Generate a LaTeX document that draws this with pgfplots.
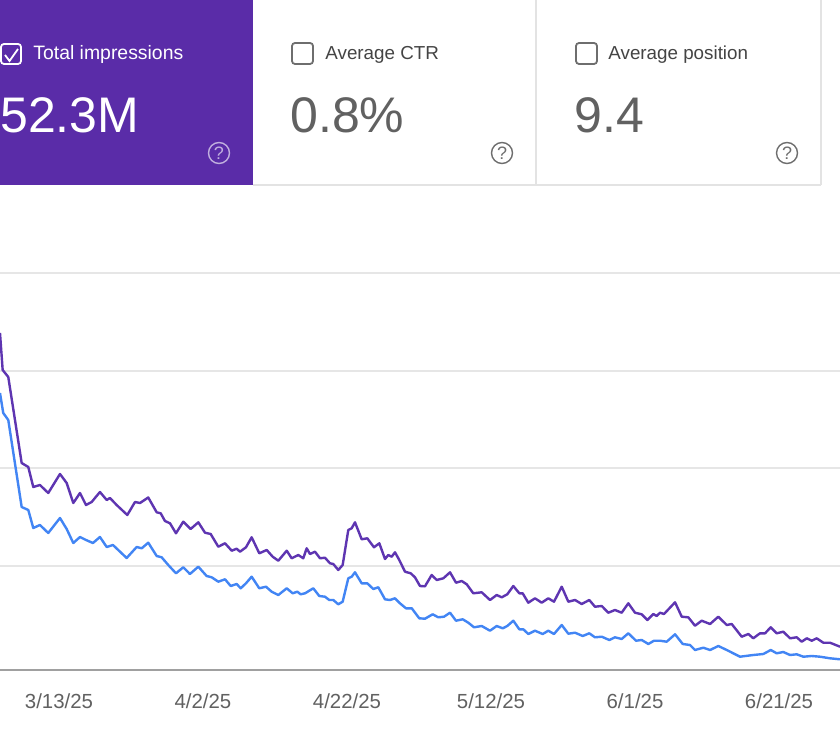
\documentclass[border=0pt]{standalone}
\usepackage{pgfplots}
\pgfplotsset{compat=1.18}
\usepackage{pgfplotstable}
\usepackage{fontspec}
\setmainfont{Liberation Sans}
\definecolor{gpurple}{HTML}{5E35B1}
\definecolor{gblue}{HTML}{4285F4}
\definecolor{cardpurple}{HTML}{5A2CA8}
\definecolor{gridc}{HTML}{E6E6E6}
\definecolor{cardline}{HTML}{E3E3E3}
\definecolor{axisc}{HTML}{A0A0A0}
\definecolor{txtgray}{HTML}{616161}
\definecolor{lblgray}{HTML}{444444}
\definecolor{iconc}{HTML}{6E6E6E}

% x = days after 3/13/25, y = impressions (chart units)
\pgfplotstableread{
d h
-8.19 337
-7.82 300
-7.04 293
-5.18 207
-4.26 203
-3.57 183
-2.64 185
-1.49 177
0.14 196
1.07 187
1.99 167
2.92 177
3.75 165
4.54 168
5.69 178
6.63 170
7.08 172
8.01 165
9.49 155
10.56 168
11.25 167
12.40 172.5
13.57 157.7
14.13 156.7
14.72 149
15.42 146.7
16.25 136.7
17.26 148.3
18.29 141
19.35 147.7
20.28 137.3
21.07 136
22.13 123.3
23.06 126.7
23.99 119.3
24.68 121.3
25.14 118.3
25.97 122.7
26.76 132.7
27.82 116.7
28.85 120
29.68 113.3
30.46 109.3
31.63 119.3
32.32 111.7
33.24 115
33.93 111.7
34.40 121.7
34.86 116
35.56 118.3
36.25 111.7
36.94 112.3
37.64 106.7
38.10 106
38.79 100
39.40 105
40.18 140
40.65 141.7
41.11 147.7
42.04 130.7
42.82 131.7
43.75 122.7
44.49 126.7
45.28 111
45.74 115
46.21 113.3
46.67 117.7
47.26 110
48.06 98.3
48.85 96.7
49.44 92.7
50.14 84
50.83 83.7
51.76 95
52.46 90
53.38 91.7
54.31 97.7
55.14 87.3
55.93 89
56.63 85.7
57.54 76.7
58.71 77.7
59.86 70
60.79 75
61.49 72.7
62.26 75.7
63.10 84
63.93 76.7
64.40 76.7
65.18 67.3
66.11 71.7
67.04 67.3
67.96 71.7
68.75 68.3
69.82 83.3
70.74 68.3
71.67 70
72.60 66
73.65 70
74.44 63.3
75.38 64
76.29 57.3
77.22 60
78.15 57.3
79.07 66.7
80.00 57.3
80.93 55.7
81.71 50
82.54 56
83.01 54
83.47 57.3
84.03 56
85.56 67.7
86.49 53.3
87.40 52.7
88.33 44.3
89.26 49.3
90.42 46
91.57 53.3
92.74 45
93.43 46
94.82 33.3
95.74 36
96.43 31.7
97.36 36.7
98.06 36.7
98.85 42.7
99.68 36.7
100.60 38.3
101.53 31.7
102.46 32.7
103.15 28.3
103.85 31.7
104.54 29.3
105.24 31.7
106.15 27.3
107.08 27.3
108.47 23.3
}\impr

\pgfplotstableread{
d h
-8.19 277
-7.74 257
-7.04 250
-5.18 163
-4.26 160
-3.57 142
-2.64 145
-1.49 137
0.14 152
1.07 141
1.99 127
2.92 133
3.75 130
4.72 127
5.69 133
6.63 123
7.50 125
9.40 112
10.79 123
11.49 121.7
12.40 127.3
13.57 114
14.26 112.7
15.18 105
16.25 96.7
17.26 102.7
18.19 96
19.35 103.3
20.51 94
21.21 92.7
22.13 88.3
23.06 90.7
23.85 84
24.68 86
25.24 81.7
25.97 86.7
26.76 93.3
27.82 81.7
28.75 83.3
29.54 78.3
30.46 75
31.63 81.7
32.46 76.7
33.10 78.3
33.57 75.7
34.17 76.7
35.32 81.7
36.15 74
36.94 73.3
37.54 70
38.10 70
38.79 65.7
39.40 68.3
40.18 91.7
40.65 93.3
41.11 97.7
42.04 86.7
42.82 86.7
43.65 81
44.35 82.7
45.28 70.7
45.97 70
46.67 71.7
47.26 67.3
48.19 61.7
48.99 61.7
50.04 51.7
50.83 51.3
51.90 55.7
52.68 52.7
53.47 53.3
54.31 57.3
55.14 49.3
56.07 50.7
56.85 47.3
57.64 42.7
58.71 44
59.86 39.3
60.79 44
61.63 41.7
62.26 44
63.10 49.3
63.93 40.7
64.49 40.7
65.18 36
66.11 39.3
67.18 36
67.96 39.3
68.75 36
69.82 45
70.74 36.3
71.67 37.3
72.74 34
73.65 36.7
74.44 32.7
75.38 33.3
76.43 30
77.22 32.7
78.15 31
79.07 36.7
80.14 29.3
80.93 30
81.85 26
82.64 29.3
83.47 29.3
84.40 28.3
85.56 35.7
86.63 26
87.64 25
88.33 20
89.49 22.3
90.42 20
91.57 24
92.74 20
94.58 13.3
96.43 15
97.82 16
98.85 20
99.68 16.7
100.60 18
101.53 15
102.46 15.7
103.38 13.3
104.54 14
105.69 13.3
107.08 11.7
108.47 10.7
}\clicks

\begin{document}
\begin{tikzpicture}[x=0.5pt,y=0.5pt]
\useasboundingbox[fill=white] (0,0) rectangle (840,740);
% cards
\fill[cardpurple] (0,740) rectangle (253,555);
\draw[cardline, line width=0.8pt] (253,555) -- (821,555);
\draw[cardline, line width=0.8pt] (536,555) -- (536,740);
\draw[cardline, line width=0.8pt] (821,555) -- (821,740);
% card 1
\draw[white, line width=0.9pt, rounded corners=1.5pt] (1,696) rectangle (21,676);
\draw[white, line width=0.9pt] (5,685) -- (9.5,679) -- (18,691);
\node[anchor=base west, inner sep=0, text=white, font=\fontsize{9.7}{12}\selectfont] at (33,680) {Total impressions};
\node[anchor=base west, inner sep=0, text=white, font=\fontsize{25}{30}\selectfont] at (0,607) {52.3M};
\draw[white!62!cardpurple, line width=0.7pt] (219,587) circle (10.5);
\node[text=white!62!cardpurple, font=\fontsize{9}{10}\selectfont, inner sep=0] at (219,587) {?};
% card 2
\draw[iconc, line width=0.9pt, rounded corners=1.5pt] (292,697) rectangle (313,676);
\node[anchor=base west, inner sep=0, text=lblgray, font=\fontsize{9.4}{12}\selectfont] at (325,680) {Average CTR};
\node[anchor=base west, inner sep=0, text=txtgray, font=\fontsize{25}{30}\selectfont] at (290,607) {0.8\%};
\draw[iconc, line width=0.7pt] (502,587) circle (10.5);
\node[text=iconc, font=\fontsize{9}{10}\selectfont, inner sep=0] at (502,587) {?};
% card 3
\draw[iconc, line width=0.9pt, rounded corners=1.5pt] (576,697) rectangle (597,676);
\node[anchor=base west, inner sep=0, text=lblgray, font=\fontsize{9.4}{12}\selectfont] at (608,680) {Average position};
\node[anchor=base west, inner sep=0, text=txtgray, font=\fontsize{25}{30}\selectfont] at (574,607) {9.4};
\draw[iconc, line width=0.7pt] (787,587) circle (10.5);
\node[text=iconc, font=\fontsize{9}{10}\selectfont, inner sep=0] at (787,587) {?};

\begin{axis}[
  at={(0,70)}, anchor=south west, scale only axis,
  width=420pt, height=240pt,
  xmin=-8.19, xmax=108.47, ymin=0, ymax=480,
  axis line style={draw=none},
  major tick length=0pt,
  ytick={104,202,299,397}, yticklabels={},
  ymajorgrids, grid style={gridc, line width=0.8pt},
  extra y ticks={0}, extra y tick labels={},
  extra y tick style={grid style={axisc, line width=0.9pt}},
  xtick={0,20,40,60,80,100},
  xticklabels={3/13/25,4/2/25,4/22/25,5/12/25,6/1/25,6/21/25},
  xticklabel style={anchor=base, yshift=-19pt, text=txtgray, font=\fontsize{10.2}{12}\selectfont},
  clip=true,
]
\addplot[gblue, line width=1.2pt, line join=round] table[x=d, y=h] {\clicks};
\addplot[gpurple, line width=1.2pt, line join=round] table[x=d, y=h] {\impr};
\end{axis}
\end{tikzpicture}
\end{document}
